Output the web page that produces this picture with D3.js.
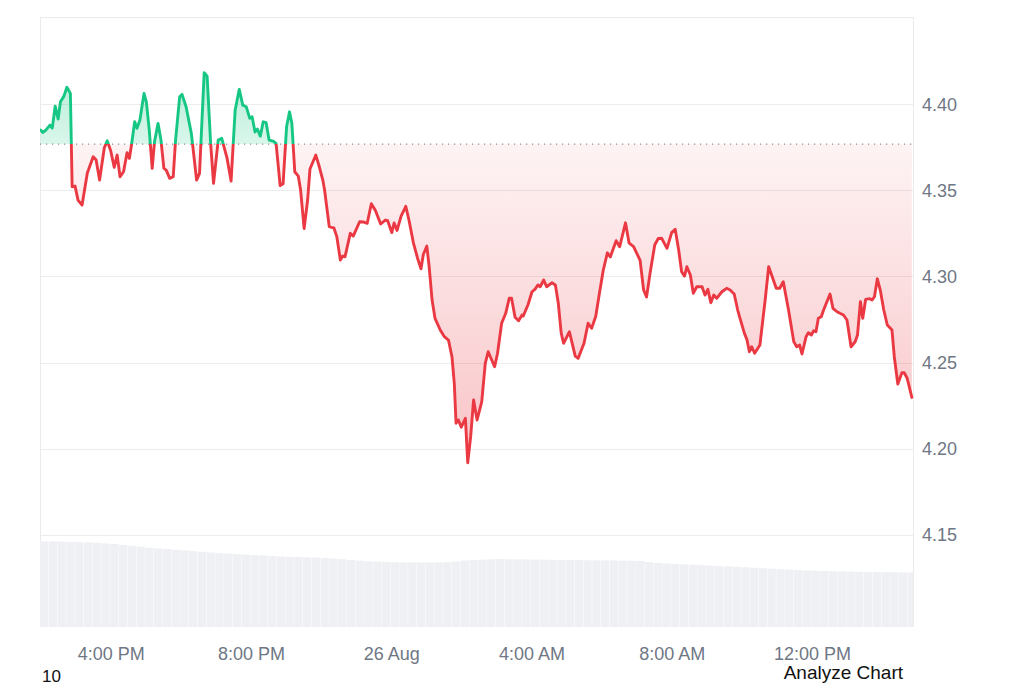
<!DOCTYPE html>
<html>
<head>
<meta charset="utf-8">
<script src="https://cdn.jsdelivr.net/npm/d3@7"></script>
<style>
  html, body { margin: 0; padding: 0; background: #ffffff; }
  svg { display: block; }
  text { font-family: "Liberation Sans", Arial, Helvetica, sans-serif; }
</style>
</head>
<body>
<svg id="chart" width="1024" height="683"></svg>
<script>
// ---- DATA ----
const startTime = new Date(2024, 7, 25, 13, 58);   // first sample
const endTime = new Date(2024, 7, 26, 14, 52);     // right edge of plot
const referencePrice = 4.3768;                      // dotted baseline (open)

// minutes after startTime
const minutes = [1,5,10,17,21,26,31,35,41,46,52,55,60,65,72,81,91,96,102,110,115,121,127,132,137,143,149,153,157,162,166,171,178,182,187,192,196,202,207,212,216,222,228,232,239,243,250,259,268,273,281,286,292,297,305,311,320,327,334,341,347,353,359,363,368,372,377,382,387,392,399,404,411,416,422,427,431,436,442,446,452,458,462,472,478,484,487,495,499,503,508,514,518,522,531,536,547,553,560,567,574,583,591,595,602,606,611,618,626,632,639,646,652,656,662,666,671,676,685,692,699,705,709,712,716,721,724,728,732,737,742,748,756,762,767,778,783,790,797,803,807,813,819,825,827,835,842,847,852,856,862,867,876,882,887,892,896,906,916,921,931,938,944,951,958,964,971,976,986,992,1002,1008,1016,1027,1033,1038,1044,1052,1058,1064,1073,1081,1087,1093,1098,1103,1107,1113,1118,1124,1133,1138,1143,1148,1153,1158,1167,1175,1181,1188,1194,1198,1205,1210,1214,1218,1223,1232,1241,1247,1254,1260,1266,1272,1281,1290,1295,1300,1304,1311,1315,1320,1324,1328,1332,1337,1341,1352,1357,1364,1369,1375,1381,1388,1395,1399,1404,1408,1413,1420,1424,1428,1433,1438,1444,1450,1458,1462,1468,1475,1479,1484,1492];

const prices = [4.3849,4.3835,4.3849,4.3878,4.3861,4.3988,4.3913,4.4013,4.4046,4.4097,4.4062,4.3520,4.3524,4.3443,4.3414,4.3600,4.3694,4.3675,4.3559,4.3745,4.3787,4.3729,4.3633,4.3704,4.3578,4.3607,4.3718,4.3685,4.3772,4.3897,4.3859,4.3907,4.4062,4.4013,4.3849,4.3627,4.3781,4.3888,4.3791,4.3627,4.3617,4.3569,4.3578,4.3791,4.4042,4.4056,4.3984,4.3830,4.3559,4.3598,4.4182,4.4162,4.3772,4.3540,4.3791,4.3801,4.3687,4.3553,4.3965,4.4085,4.3994,4.3984,4.3917,4.3926,4.3838,4.3855,4.3814,4.3897,4.3892,4.3791,4.3785,4.3772,4.3527,4.3538,4.3868,4.3955,4.3888,4.3607,4.3582,4.3501,4.3278,4.3443,4.3623,4.3704,4.3636,4.3559,4.3501,4.3289,4.3284,4.3281,4.3230,4.3095,4.3118,4.3114,4.3250,4.3234,4.3317,4.3316,4.3308,4.3422,4.3382,4.3304,4.3327,4.3323,4.3254,4.3310,4.3267,4.3350,4.3407,4.3317,4.3195,4.3107,4.3044,4.3127,4.3176,4.3056,4.2863,4.2757,4.2689,4.2650,4.2631,4.2534,4.2380,4.2148,4.2167,4.2125,4.2148,4.2177,4.1919,4.2070,4.2283,4.2167,4.2273,4.2496,4.2563,4.2476,4.2554,4.2728,4.2786,4.2873,4.2873,4.2763,4.2743,4.2776,4.2770,4.2834,4.2911,4.2925,4.2950,4.2940,4.2979,4.2940,4.2963,4.2950,4.2844,4.2670,4.2612,4.2679,4.2538,4.2525,4.2612,4.2728,4.2699,4.2767,4.2915,4.3037,4.3137,4.3113,4.3207,4.3172,4.3311,4.3195,4.3172,4.3093,4.2921,4.2881,4.3018,4.3182,4.3220,4.3221,4.3163,4.3254,4.3273,4.3153,4.3027,4.3002,4.3056,4.3008,4.2902,4.2940,4.2940,4.2892,4.2925,4.2847,4.2892,4.2873,4.2911,4.2931,4.2921,4.2898,4.2805,4.2756,4.2675,4.2631,4.2563,4.2592,4.2554,4.2602,4.2863,4.3056,4.2989,4.2931,4.2931,4.2969,4.2805,4.2621,4.2592,4.2602,4.2550,4.2650,4.2673,4.2660,4.2685,4.2679,4.2757,4.2766,4.2805,4.2898,4.2815,4.2795,4.2786,4.2776,4.2747,4.2592,4.2621,4.2660,4.2853,4.2757,4.2867,4.2871,4.2863,4.2882,4.2986,4.2921,4.2805,4.2718,4.2689,4.2534,4.2376,4.2441,4.2441,4.2409,4.2298];

// volume bars, one per 15 minutes from startTime (relative units)
const volumes = [85.5,85.5,85.3,85,85,84.6,84.2,83.5,83,82,81.2,80.3,79.2,78.6,78,77.2,76.5,76,75.2,74.5,73.8,73.4,72.8,72.4,72,71.6,71,70.6,70.2,70,69.6,69.3,69,68.6,67.8,67,66.3,65.8,65.4,65,64.8,64.6,64.6,64.5,64.5,64.6,64.8,65.5,66.5,67,67.3,67.8,68,67.8,67.6,67.5,67.4,67.3,67.2,67,67,66.9,66.8,66.7,66.6,66.5,66.4,66.3,66,65,64,63.5,63,62.6,62.2,61.8,61.4,61,60.6,60.2,59.7,59.2,58.8,58.3,57.8,57.4,57,56.6,56.3,56,55.8,55.6,55.4,55.2,55,54.9,54.8,54.7,54.6,54.6];
const volumeStepMin = 15;

const priceTicks = [4.15, 4.20, 4.25, 4.30, 4.35, 4.40];
const timeTicks = [
  {t: new Date(2024, 7, 25, 16, 0), label: "4:00 PM"},
  {t: new Date(2024, 7, 25, 20, 0), label: "8:00 PM"},
  {t: new Date(2024, 7, 26, 0, 0),  label: "26 Aug"},
  {t: new Date(2024, 7, 26, 4, 0),  label: "4:00 AM"},
  {t: new Date(2024, 7, 26, 8, 0),  label: "8:00 AM"},
  {t: new Date(2024, 7, 26, 12, 0), label: "12:00 PM"}
];

// ---- LAYOUT ----
const plotL = 40, plotR = 913, plotT = 17, plotB = 627;
const green = "#16c784", red = "#ea3943";

const points = minutes.map((m, i) => ({t: new Date(startTime.getTime() + m * 60000), v: prices[i]}));

const x = d3.scaleTime().domain([startTime, endTime]).range([plotL, plotR]);
const y = d3.scaleLinear().domain([4.0966, 4.4505]).range([plotB, plotT]);
const yVol = d3.scaleLinear().domain([0, 100]).range([plotB, plotB - 100]);

const svg = d3.select("#chart");
const defs = svg.append("defs");
const yRef = y(referencePrice);

defs.append("clipPath").attr("id", "plotClip")
  .append("rect").attr("x", plotL).attr("y", plotT).attr("width", plotR - plotL).attr("height", plotB - plotT);
defs.append("clipPath").attr("id", "aboveClip")
  .append("rect").attr("x", plotL).attr("y", plotT - 10).attr("width", plotR - plotL + 2).attr("height", yRef - plotT + 10);
defs.append("clipPath").attr("id", "belowClip")
  .append("rect").attr("x", plotL).attr("y", yRef).attr("width", plotR - plotL + 2).attr("height", plotB - yRef);

const gGreen = defs.append("linearGradient").attr("id", "gGreen")
  .attr("gradientUnits", "userSpaceOnUse").attr("x1", 0).attr("x2", 0)
  .attr("y1", y(4.42)).attr("y2", yRef);
gGreen.append("stop").attr("offset", "0%").attr("stop-color", green).attr("stop-opacity", 0.32);
gGreen.append("stop").attr("offset", "100%").attr("stop-color", green).attr("stop-opacity", 0.16);

const gRed = defs.append("linearGradient").attr("id", "gRed")
  .attr("gradientUnits", "userSpaceOnUse").attr("x1", 0).attr("x2", 0)
  .attr("y1", yRef).attr("y2", y(4.19));
gRed.append("stop").attr("offset", "0%").attr("stop-color", red).attr("stop-opacity", 0.06);
gRed.append("stop").attr("offset", "100%").attr("stop-color", red).attr("stop-opacity", 0.30);

// frame lines
svg.append("line").attr("x1", plotL).attr("x2", plotR).attr("y1", plotT + 0.5).attr("y2", plotT + 0.5)
  .attr("stroke", "#ebebeb").attr("stroke-width", 1);
svg.append("line").attr("x1", plotL + 0.5).attr("x2", plotL + 0.5).attr("y1", plotT).attr("y2", plotB)
  .attr("stroke", "#ebebeb").attr("stroke-width", 1);
svg.append("line").attr("x1", plotR + 0.5).attr("x2", plotR + 0.5).attr("y1", plotT).attr("y2", plotB)
  .attr("stroke", "#ebebeb").attr("stroke-width", 1);

// volume bars
const volTime = i => new Date(startTime.getTime() + i * volumeStepMin * 60000);
const volG = svg.append("g").attr("clip-path", "url(#plotClip)");
volG.selectAll("rect").data(volumes).enter().append("rect")
  .attr("x", (d, i) => x(volTime(i)))
  .attr("width", (d, i) => x(volTime(i + 1)) - x(volTime(i)) - 0.4)
  .attr("y", d => yVol(d))
  .attr("height", d => yVol(0) - yVol(d))
  .attr("fill", "#eef0f4");

// grid
svg.append("g").selectAll("line").data(priceTicks).enter().append("line")
  .attr("x1", plotL).attr("x2", plotR)
  .attr("y1", d => Math.round(y(d)) + 0.5).attr("y2", d => Math.round(y(d)) + 0.5)
  .attr("stroke", "#ececec").attr("stroke-width", 1);

// price axis labels
svg.append("g").selectAll("text").data(priceTicks).enter().append("text")
  .attr("x", 922).attr("y", d => y(d)).attr("dy", "0.36em")
  .attr("font-size", 18).attr("fill", "#6f7785")
  .text(d => d3.format(".2f")(d));

// time axis labels
svg.append("g").selectAll("text").data(timeTicks).enter().append("text")
  .attr("x", d => x(d.t)).attr("y", 654).attr("dy", "0.36em")
  .attr("text-anchor", "middle")
  .attr("font-size", 18).attr("fill", "#6f7785")
  .text(d => d.label);

// areas
const area = d3.area().x(d => x(d.t)).y0(yRef).y1(d => y(d.v));
const line = d3.line().x(d => x(d.t)).y(d => y(d.v));

svg.append("path").datum(points).attr("d", area)
  .attr("fill", "url(#gGreen)").attr("clip-path", "url(#aboveClip)");
svg.append("path").datum(points).attr("d", area)
  .attr("fill", "url(#gRed)").attr("clip-path", "url(#belowClip)");

// reference dotted line
svg.append("line").attr("x1", plotL).attr("x2", plotR)
  .attr("y1", yRef).attr("y2", yRef)
  .attr("stroke", "#8a8f99").attr("stroke-width", 1.2).attr("stroke-dasharray", "1.2,4.8");

// lines
svg.append("path").datum(points).attr("d", line)
  .attr("fill", "none").attr("stroke", green).attr("stroke-width", 2.9)
  .attr("stroke-linejoin", "round").attr("stroke-linecap", "round")
  .attr("clip-path", "url(#aboveClip)");
svg.append("path").datum(points).attr("d", line)
  .attr("fill", "none").attr("stroke", red).attr("stroke-width", 2.9)
  .attr("stroke-linejoin", "round").attr("stroke-linecap", "round")
  .attr("clip-path", "url(#belowClip)");

// overlay texts
svg.append("text").attr("x", 42).attr("y", 682).attr("font-size", 17).attr("fill", "#111").text("10");
svg.append("text").attr("x", 903).attr("y", 679).attr("text-anchor", "end")
  .attr("font-size", 19).attr("fill", "#111").text("Analyze Chart");
</script>
</body>
</html>
